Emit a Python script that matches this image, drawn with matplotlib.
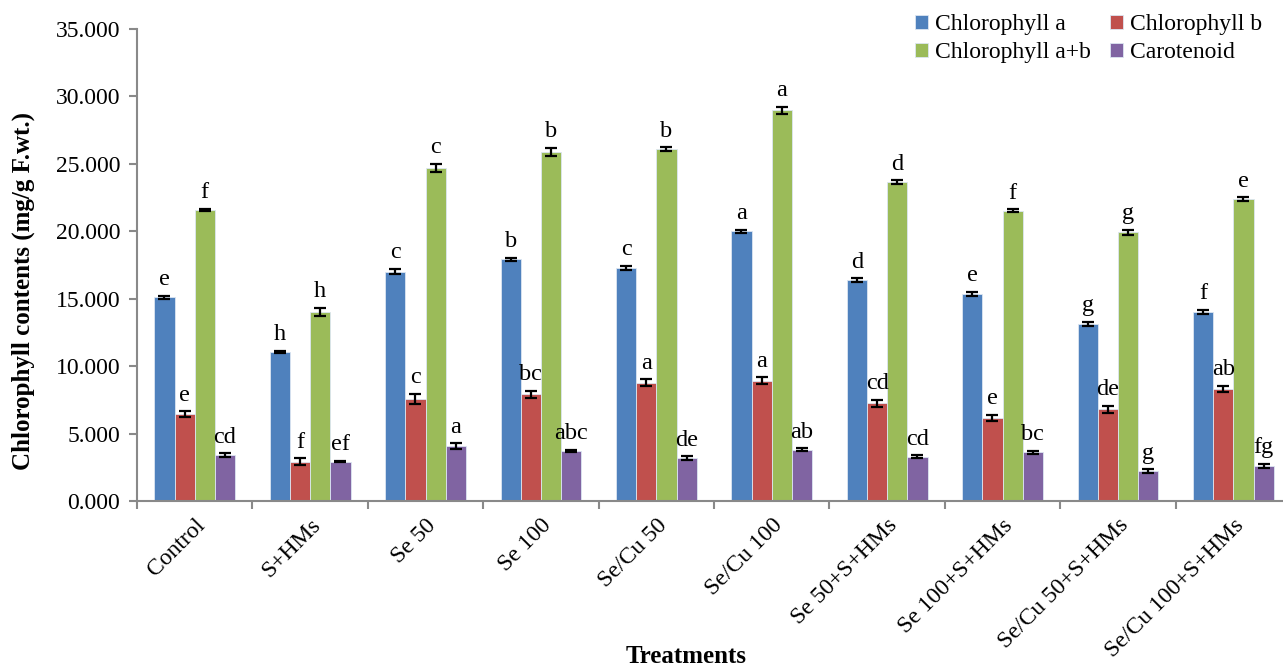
import numpy as np
import matplotlib.pyplot as plt

plt.rcParams['font.family'] = ['Liberation Serif', 'DejaVu Serif']

treatments = ["Control", "S+HMs", "Se 50", "Se 100", "Se/Cu 50", "Se/Cu 100",
              "Se 50+S+HMs", "Se 100+S+HMs", "Se/Cu 50+S+HMs", "Se/Cu 100+S+HMs"]

chl_a = [15.10, 11.07, 17.00, 17.92, 17.30, 20.00, 16.37, 15.37, 13.12, 14.04]
chl_b = [6.45, 2.91, 7.56, 7.91, 8.77, 8.92, 7.24, 6.15, 6.80, 8.30]
chl_ab = [21.58, 14.04, 24.69, 25.90, 26.08, 28.97, 23.63, 21.53, 19.92, 22.37]
carot = [3.39, 2.91, 4.08, 3.73, 3.19, 3.80, 3.28, 3.61, 2.22, 2.60]

err_a = [0.10, 0.08, 0.20, 0.12, 0.15, 0.12, 0.15, 0.15, 0.15, 0.15]
err_b = [0.20, 0.25, 0.40, 0.25, 0.25, 0.25, 0.25, 0.25, 0.25, 0.25]
err_ab = [0.10, 0.30, 0.30, 0.30, 0.15, 0.25, 0.15, 0.10, 0.20, 0.15]
err_c = [0.15, 0.05, 0.20, 0.08, 0.12, 0.10, 0.12, 0.10, 0.12, 0.15]

let_a = ["e", "h", "c", "b", "c", "a", "d", "e", "g", "f"]
let_b = ["e", "f", "c", "bc", "a", "a", "cd", "e", "de", "ab"]
let_ab = ["f", "h", "c", "b", "b", "a", "d", "f", "g", "e"]
let_c = ["cd", "ef", "a", "abc", "de", "ab", "cd", "bc", "g", "fg"]

series = [
    ("Chlorophyll a", chl_a, err_a, let_a, "#4F81BD"),
    ("Chlorophyll b", chl_b, err_b, let_b, "#C0504D"),
    ("Chlorophyll a+b", chl_ab, err_ab, let_ab, "#9BBB59"),
    ("Carotenoid", carot, err_c, let_c, "#8064A2"),
]

fig = plt.figure(figsize=(12.83, 6.71), dpi=100)
ax = fig.add_axes([0.1068, 0.2534, 0.8995, 0.7034])

x = np.arange(len(treatments))
width = 0.175

handles = []
for i, (name, vals, errs, lets, color) in enumerate(series):
    pos = x + (i - 1.5) * width
    b = ax.bar(pos, vals, width, color=color, edgecolor="#dce6f2", linewidth=0.6,
               label=name, zorder=2)
    handles.append(b)
    ax.errorbar(pos, vals, yerr=errs, fmt="none", ecolor="black",
                elinewidth=1.6, capsize=4, capthick=1.6, zorder=3)
    for p, v, e, t in zip(pos, vals, errs, lets):
        ax.annotate(t, (p, v + e), xytext=(0, 4), textcoords="offset points",
                    ha="center", va="bottom", fontsize=17.5)

ax.set_xlim(-0.5, len(treatments) - 0.5)
ax.set_ylim(0, 35)
ax.set_yticks(np.arange(0, 35.1, 5))
ax.set_yticklabels([f"{v:.3f}" for v in np.arange(0, 35.1, 5)], fontsize=17)

ax.set_xticks(x)
ax.set_xticklabels(treatments, rotation=45, ha="right", rotation_mode="anchor",
                   fontsize=17)
ax.tick_params(axis="x", length=0, pad=10)
ax.set_xticks(np.arange(-0.5, len(treatments), 1), minor=True)
ax.tick_params(axis="x", which="minor", length=6, width=1.5, color="#898989",
               direction="out")
ax.tick_params(axis="y", length=6, width=1.5, color="#898989", direction="out",
               pad=6)

for side in ["top", "right"]:
    ax.spines[side].set_visible(False)
for side in ["left", "bottom"]:
    ax.spines[side].set_color("#898989")
    ax.spines[side].set_linewidth(1.5)

fig.text(23 / 1283, 1 - 291 / 671, "Chlorophyll contents (mg/g F.wt.)",
         rotation=90, ha="center", va="center", fontsize=18, fontweight="bold")
fig.text(686 / 1283, 0.004, "Treatments", ha="center", va="bottom", fontsize=18,
         fontweight="bold")

# two rows: a, b on top; a+b, carotenoid below
order = [0, 2, 1, 3]
fig.legend([handles[k] for k in order], [series[k][0] for k in order],
           loc="upper left", bbox_to_anchor=(0.702, 1.0), ncol=2, fontsize=17,
           frameon=False, handlelength=0.55, handleheight=0.55, handletextpad=0.3,
           columnspacing=0.8, labelspacing=0.3, borderaxespad=0.2)

fig.savefig("out.png", dpi=100)
